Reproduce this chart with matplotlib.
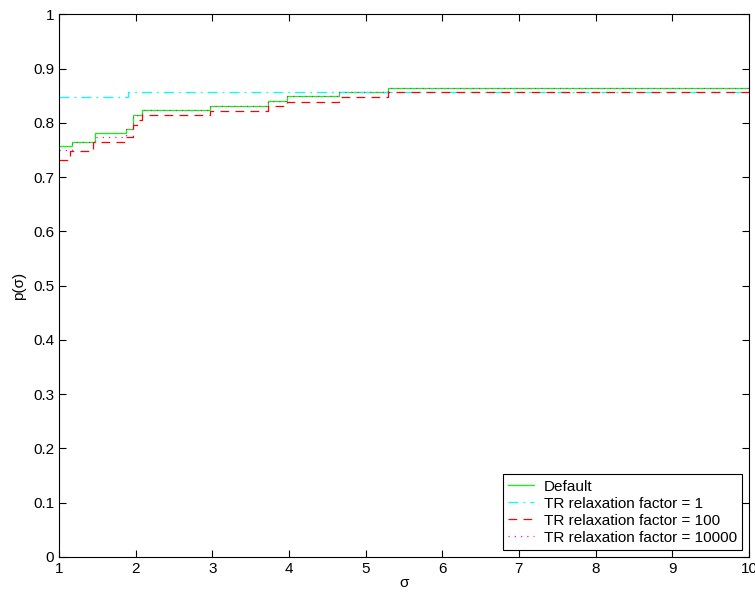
import matplotlib as mpl
import matplotlib.pyplot as plt
import numpy as np

mpl.rcParams.update({
    "font.family": ["Liberation Sans", "DejaVu Sans"],
    "font.size": 11,
    "xtick.direction": "in",
    "ytick.direction": "in",
    "xtick.top": True,
    "ytick.right": True,
})

# --- performance profile data (step, post) ---
x_default = [1, 1.165, 1.47, 1.87, 1.97, 2.08, 2.97, 3.73, 3.97, 4.65, 5.29, 10]
y_default = [0.757, 0.765, 0.782, 0.789, 0.815, 0.823, 0.831, 0.840, 0.849, 0.857, 0.865, 0.865]

x_tr1 = [1, 1.90, 10]
y_tr1 = [0.848, 0.857, 0.857]

x_tr100 = [1, 1.14, 1.45, 1.87, 1.97, 2.02, 2.08, 2.97, 3.73, 3.97, 4.65, 5.29, 10]
y_tr100 = [0.731, 0.748, 0.765, 0.773, 0.796, 0.806, 0.814, 0.822, 0.831, 0.839, 0.848, 0.856, 0.856]

x_tr10000 = [1, 1.165, 1.47, 1.87, 1.97, 2.08, 2.97, 3.73, 3.97, 4.65, 5.29, 10]
y_tr10000 = [0.749, 0.765, 0.773, 0.789, 0.815, 0.823, 0.831, 0.840, 0.849, 0.857, 0.865, 0.865]

labels = ["Default", "TR relaxation factor = 1",
          "TR relaxation factor = 100", "TR relaxation factor = 10000"]

fig = plt.figure(figsize=(7.55, 5.95), dpi=100)
ax = fig.add_axes([0.078, 0.064, 0.914, 0.912])

ax.step(x_default, y_default, where="post", color="#00ff00", lw=0.9, label=labels[0])
ax.step(x_tr1, y_tr1, where="post", color="#00ffff", lw=0.9, linestyle=(0, (8, 4, 1.5, 4)), label=labels[1])
ax.step(x_tr100, y_tr100, where="post", color="#ff0000", lw=0.9, linestyle=(0, (7, 5)), label=labels[2])
ax.step(x_tr10000, y_tr10000, where="post", color="#ff00ff", lw=0.9, linestyle=(0, (1, 4)), label=labels[3])

ax.set_xlim(1, 10)
ax.set_ylim(0, 1)
ax.set_xticks(np.arange(1, 11))
ax.set_yticks(np.arange(0, 1.01, 0.1))
ax.set_yticklabels(["0", "0.1", "0.2", "0.3", "0.4", "0.5", "0.6", "0.7", "0.8", "0.9", "1"])
ax.tick_params(length=5, width=0.8)
ax.set_xlabel("σ", labelpad=0)
ax.set_ylabel("p(σ)", labelpad=5)

leg = ax.legend(loc="lower right", fancybox=False, framealpha=1, edgecolor="black",
                borderaxespad=0.45, handlelength=1.7, handletextpad=0.6,
                labelspacing=0.2, borderpad=0.35)
leg.get_frame().set_linewidth(0.8)

fig.savefig("out.png", dpi=100)
